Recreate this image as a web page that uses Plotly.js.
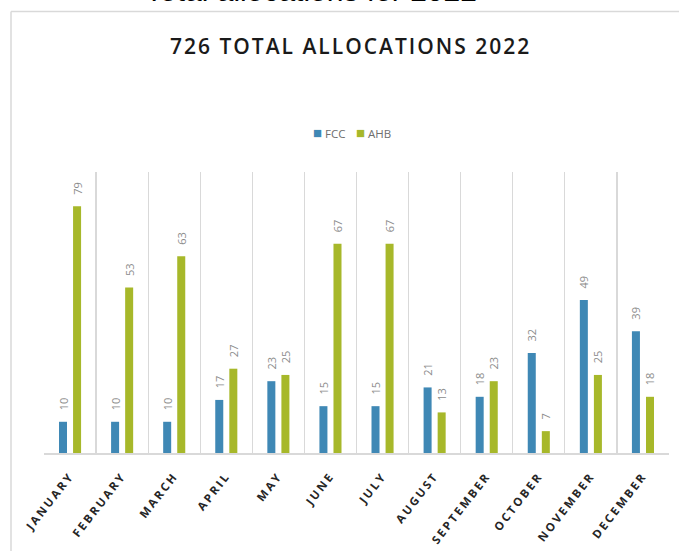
<!DOCTYPE html>
<html>
<head>
<meta charset="utf-8">
<script src="https://cdn.plot.ly/plotly-3.0.1.min.js"></script>
<style>
html,body{margin:0;padding:0;background:#fff;overflow:hidden;}
#chart{width:679px;height:551px;}
#chart .xtick text{letter-spacing:2.4px;}
#chart g.annotation[data-index="0"] text{letter-spacing:2px;}
</style>
</head>
<body>
<div id="chart"></div>
<script>
const months = ["JANUARY","FEBRUARY","MARCH","APRIL","MAY","JUNE","JULY","AUGUST","SEPTEMBER","OCTOBER","NOVEMBER","DECEMBER"];
const fcc = [10,10,10,17,23,15,15,21,18,32,49,39];
const ahb = [79,53,63,27,25,67,67,13,23,7,25,18];
const seriesNames = ["FCC","AHB"];
const seriesColors = ["#3f88b5","#a7b82a"];
const chartTitle = "726 TOTAL ALLOCATIONS 2022";
const pageHeading = "Total allocations for 2022";

const L = 44, R = 10, T = 172, B = 98, W = 679, H = 551;
const pw = W - L - R, ph = H - T - B;
const px = x => (x - L) / pw;
const py = y => (H - B - y) / ph;

const labelFont = {family: "Open Sans, sans-serif", size: 11, color: "#8c8c8c"};
function mk(name, vals, color){
  return {
    type: "bar", name: name, x: months, y: vals,
    marker: {color: color},
    text: vals.map(String),
    texttemplate: "\u00a0\u00a0\u00a0%{text}",
    textposition: "outside", textangle: -90, constraintext: "none",
    textfont: labelFont, cliponaxis: false,
    hoverinfo: "x+y"
  };
}
const data = [mk(seriesNames[0], fcc, seriesColors[0]), mk(seriesNames[1], ahb, seriesColors[1])];

const legendFont = {family: "Open Sans, sans-serif", size: 11.5, color: "#6e6e6e"};
const sq = c => "<span style='color:" + c + ";font-size:15px'>■</span>";
const layout = {
  width: W, height: H,
  margin: {l: L, r: R, t: T, b: B, pad: 0},
  paper_bgcolor: "#ffffff", plot_bgcolor: "#ffffff",
  barmode: "group", bargap: 0.46, bargroupgap: 0.43,
  showlegend: false,
  xaxis: {
    type: "category", tickson: "boundaries", showgrid: true, gridcolor: "#d9d9d9", gridwidth: 1.3,
    showline: true, linecolor: "#d9d9d9", linewidth: 1.5, ticks: "", tickangle: -52,
    ticklabelstandoff: 10,
    tickfont: {family: "Open Sans, sans-serif", size: 11.5, color: "#262626", weight: 700},
    zeroline: false, fixedrange: true
  },
  yaxis: {range: [0, 90], visible: false, showgrid: false, zeroline: false, fixedrange: true},
  annotations: [
    {text: chartTitle, xref: "paper", yref: "paper", x: px(350), y: py(46), xanchor: "center", yanchor: "middle",
     showarrow: false, font: {family: "Open Sans, sans-serif", size: 21, color: "#1a1a1a", weight: 600}},
    {text: pageHeading, xref: "paper", yref: "paper", x: px(311), y: py(9), xanchor: "center", yanchor: "bottom",
     showarrow: false, font: {family: "Liberation Sans, Arial, sans-serif", size: 30, color: "#000000"}},
    {text: sq(seriesColors[0]) + " " + seriesNames[0], xref: "paper", yref: "paper",
     x: px(311), y: py(132), xanchor: "left", yanchor: "middle", showarrow: false, font: legendFont},
    {text: sq(seriesColors[1]) + " " + seriesNames[1], xref: "paper", yref: "paper",
     x: px(354), y: py(132), xanchor: "left", yanchor: "middle", showarrow: false, font: legendFont}
  ],
  shapes: [
    {type: "line", xref: "paper", yref: "paper", x0: px(11), x1: px(700), y0: py(11.5), y1: py(11.5),
     line: {color: "#d9d9d9", width: 1.5}},
    {type: "line", xref: "paper", yref: "paper", x0: px(11), x1: px(11), y0: py(11.5), y1: py(560),
     line: {color: "#d9d9d9", width: 1.5}}
  ]
};
Plotly.newPlot("chart", data, layout, {displayModeBar: false, staticPlot: true});
</script>
</body>
</html>
